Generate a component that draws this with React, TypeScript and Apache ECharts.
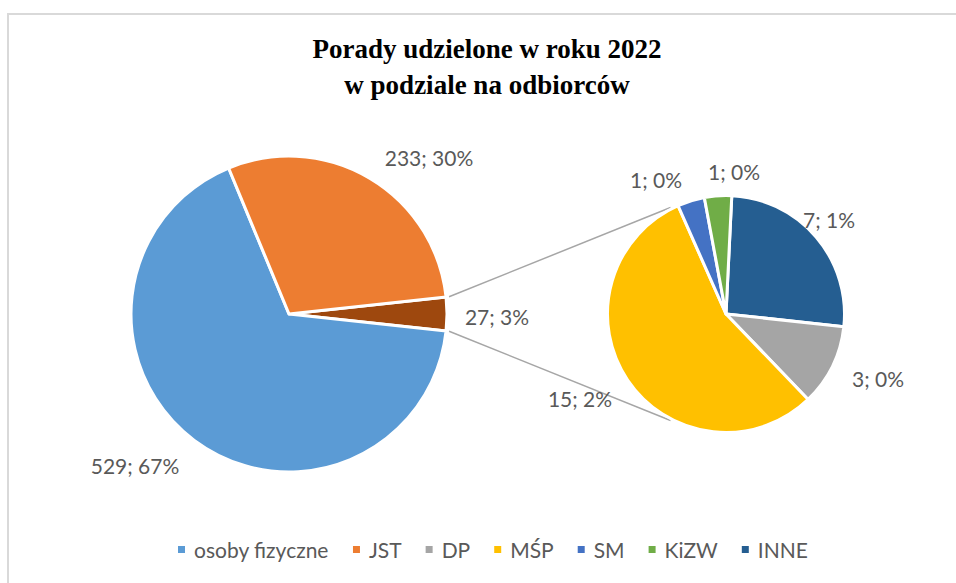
import React, { useEffect, useRef } from "react";
import * as echarts from "echarts";

// ---- data ----
const legendNames = ["osoby fizyczne", "JST", "DP", "MŚP", "SM", "KiZW", "INNE"];
const subNames = ["INNE", "DP", "MŚP", "SM", "KiZW"];
const subValues = [7, 3, 15, 1, 1];
const otherName = "Pozostali";
const mainNames = [otherName, "osoby fizyczne", "JST"];
const otherValue = subValues.reduce((a, b) => a + b, 0);
const mainValues = [otherValue, 529, 233];
const titleText = "Porady udzielone w roku 2022\nw podziale na odbiorców";

const TOTAL = mainValues.reduce((a, b) => a + b, 0);

// ---- styling / layout ----
const colors: Record<string, string> = {
  "osoby fizyczne": "#5B9BD5",
  JST: "#ED7D31",
  DP: "#A5A5A5",
  "MŚP": "#FFC000",
  SM: "#4472C4",
  KiZW: "#70AD47",
  INNE: "#255E91",
  [otherName]: "#9E480E",
};
const MAIN = { cx: 289, cy: 314, r: 158 };
const SUB = { cx: 726, cy: 314, r: 118.5 };
const SUB_START = 87.2;
const LINK_ANGLE = 117.5;
const FONT = "Lato, 'Open Sans', sans-serif";
const LABEL_COLOR = "#595959";

// label anchor offsets relative to pie centre (Excel "best fit" placement)
const labelSpots: Record<string, [number, number]> = {
  "osoby fizyczne": [-154, 151],
  JST: [140, -157],
  [otherName]: [208, 2],
  "MŚP": [-146, 84],
  DP: [152, 64],
  INNE: [103, -95],
  SM: [-70, -135],
  KiZW: [8, -143],
};

function fmt(p: any) {
  return `${p.value}; ${Math.round((p.value / TOTAL) * 100)}%`;
}

export default function App() {
  const ref = useRef<HTMLDivElement>(null);
  useEffect(() => {
    if (!ref.current) return;
    const chart = echarts.init(ref.current, null, { renderer: "svg" });
    const half = (180 * otherValue) / TOTAL;
    const toRad = Math.PI / 180;
    const r1 = MAIN.r + 3;
    const r2 = SUB.r + 1.5;
    const p1a = [MAIN.cx + r1 * Math.cos(half * toRad), MAIN.cy - r1 * Math.sin(half * toRad)];
    const p1b = [MAIN.cx + r1 * Math.cos(half * toRad), MAIN.cy + r1 * Math.sin(half * toRad)];
    const p2a = [SUB.cx + r2 * Math.cos(LINK_ANGLE * toRad), SUB.cy - r2 * Math.sin(LINK_ANGLE * toRad)];
    const p2b = [SUB.cx + r2 * Math.cos(LINK_ANGLE * toRad), SUB.cy + r2 * Math.sin(LINK_ANGLE * toRad)];

    const labelStyle = {
      show: true,
      position: "outside",
      formatter: fmt,
      color: LABEL_COLOR,
      fontFamily: FONT,
      fontSize: 21,
    };
    const mkLayout = (names: string[], c: { cx: number; cy: number }) => (p: any) => {
      const s = labelSpots[names[p.dataIndex]];
      return { x: c.cx + s[0], y: c.cy + s[1], align: "center", verticalAlign: "middle" };
    };

    chart.setOption({
      animation: false,
      title: {
        text: titleText,
        left: 482,
        textAlign: "center",
        top: 26,
        textStyle: {
          fontFamily: "'Liberation Serif', 'Times New Roman', serif",
          fontWeight: "bold",
          fontSize: 27,
          lineHeight: 36,
          color: "#000",
        },
      },
      legend: {
        data: legendNames,
        left: 176,
        top: 539,
        padding: 0,
        icon: "rect",
        itemWidth: 9,
        itemHeight: 9,
        itemGap: 22,
        selectedMode: false,
        textStyle: { fontFamily: FONT, fontSize: 21, color: LABEL_COLOR, padding: [0, 0, 0, 3] },
      },
      graphic: [
        {
          type: "rect",
          shape: { x: 8, y: 14, width: 1000, height: 1000 },
          style: { fill: "none", stroke: "#D9D9D9", lineWidth: 2 },
          silent: true,
          z: -1,
        },
        {
          type: "line",
          shape: { x1: p1a[0], y1: p1a[1], x2: p2a[0], y2: p2a[1] },
          style: { stroke: "#A6A6A6", lineWidth: 1.5 },
          silent: true,
        },
        {
          type: "line",
          shape: { x1: p1b[0], y1: p1b[1], x2: p2b[0], y2: p2b[1] },
          style: { stroke: "#A6A6A6", lineWidth: 1.5 },
          silent: true,
        },
      ],
      series: [
        {
          type: "pie",
          center: [MAIN.cx, MAIN.cy],
          radius: MAIN.r,
          startAngle: half,
          clockwise: true,
          avoidLabelOverlap: false,
          label: labelStyle,
          labelLine: { show: false },
          labelLayout: mkLayout(mainNames, MAIN),
          itemStyle: { borderColor: "#fff", borderWidth: 3 },
          emphasis: { disabled: true },
          data: mainNames.map((n, i) => ({ name: n, value: mainValues[i], itemStyle: { color: colors[n] } })),
        },
        {
          type: "pie",
          center: [SUB.cx, SUB.cy],
          radius: SUB.r,
          startAngle: SUB_START,
          clockwise: true,
          avoidLabelOverlap: false,
          label: labelStyle,
          labelLine: { show: false },
          labelLayout: mkLayout(subNames, SUB),
          itemStyle: { borderColor: "#fff", borderWidth: 3 },
          emphasis: { disabled: true },
          data: subNames.map((n, i) => ({ name: n, value: subValues[i], itemStyle: { color: colors[n] } })),
        },
      ],
    });
    return () => chart.dispose();
  }, []);
  return (
    <div
      ref={ref}
      style={{ position: "fixed", left: 0, top: 0, width: 956, height: 583, background: "#fff" }}
    />
  );
}
